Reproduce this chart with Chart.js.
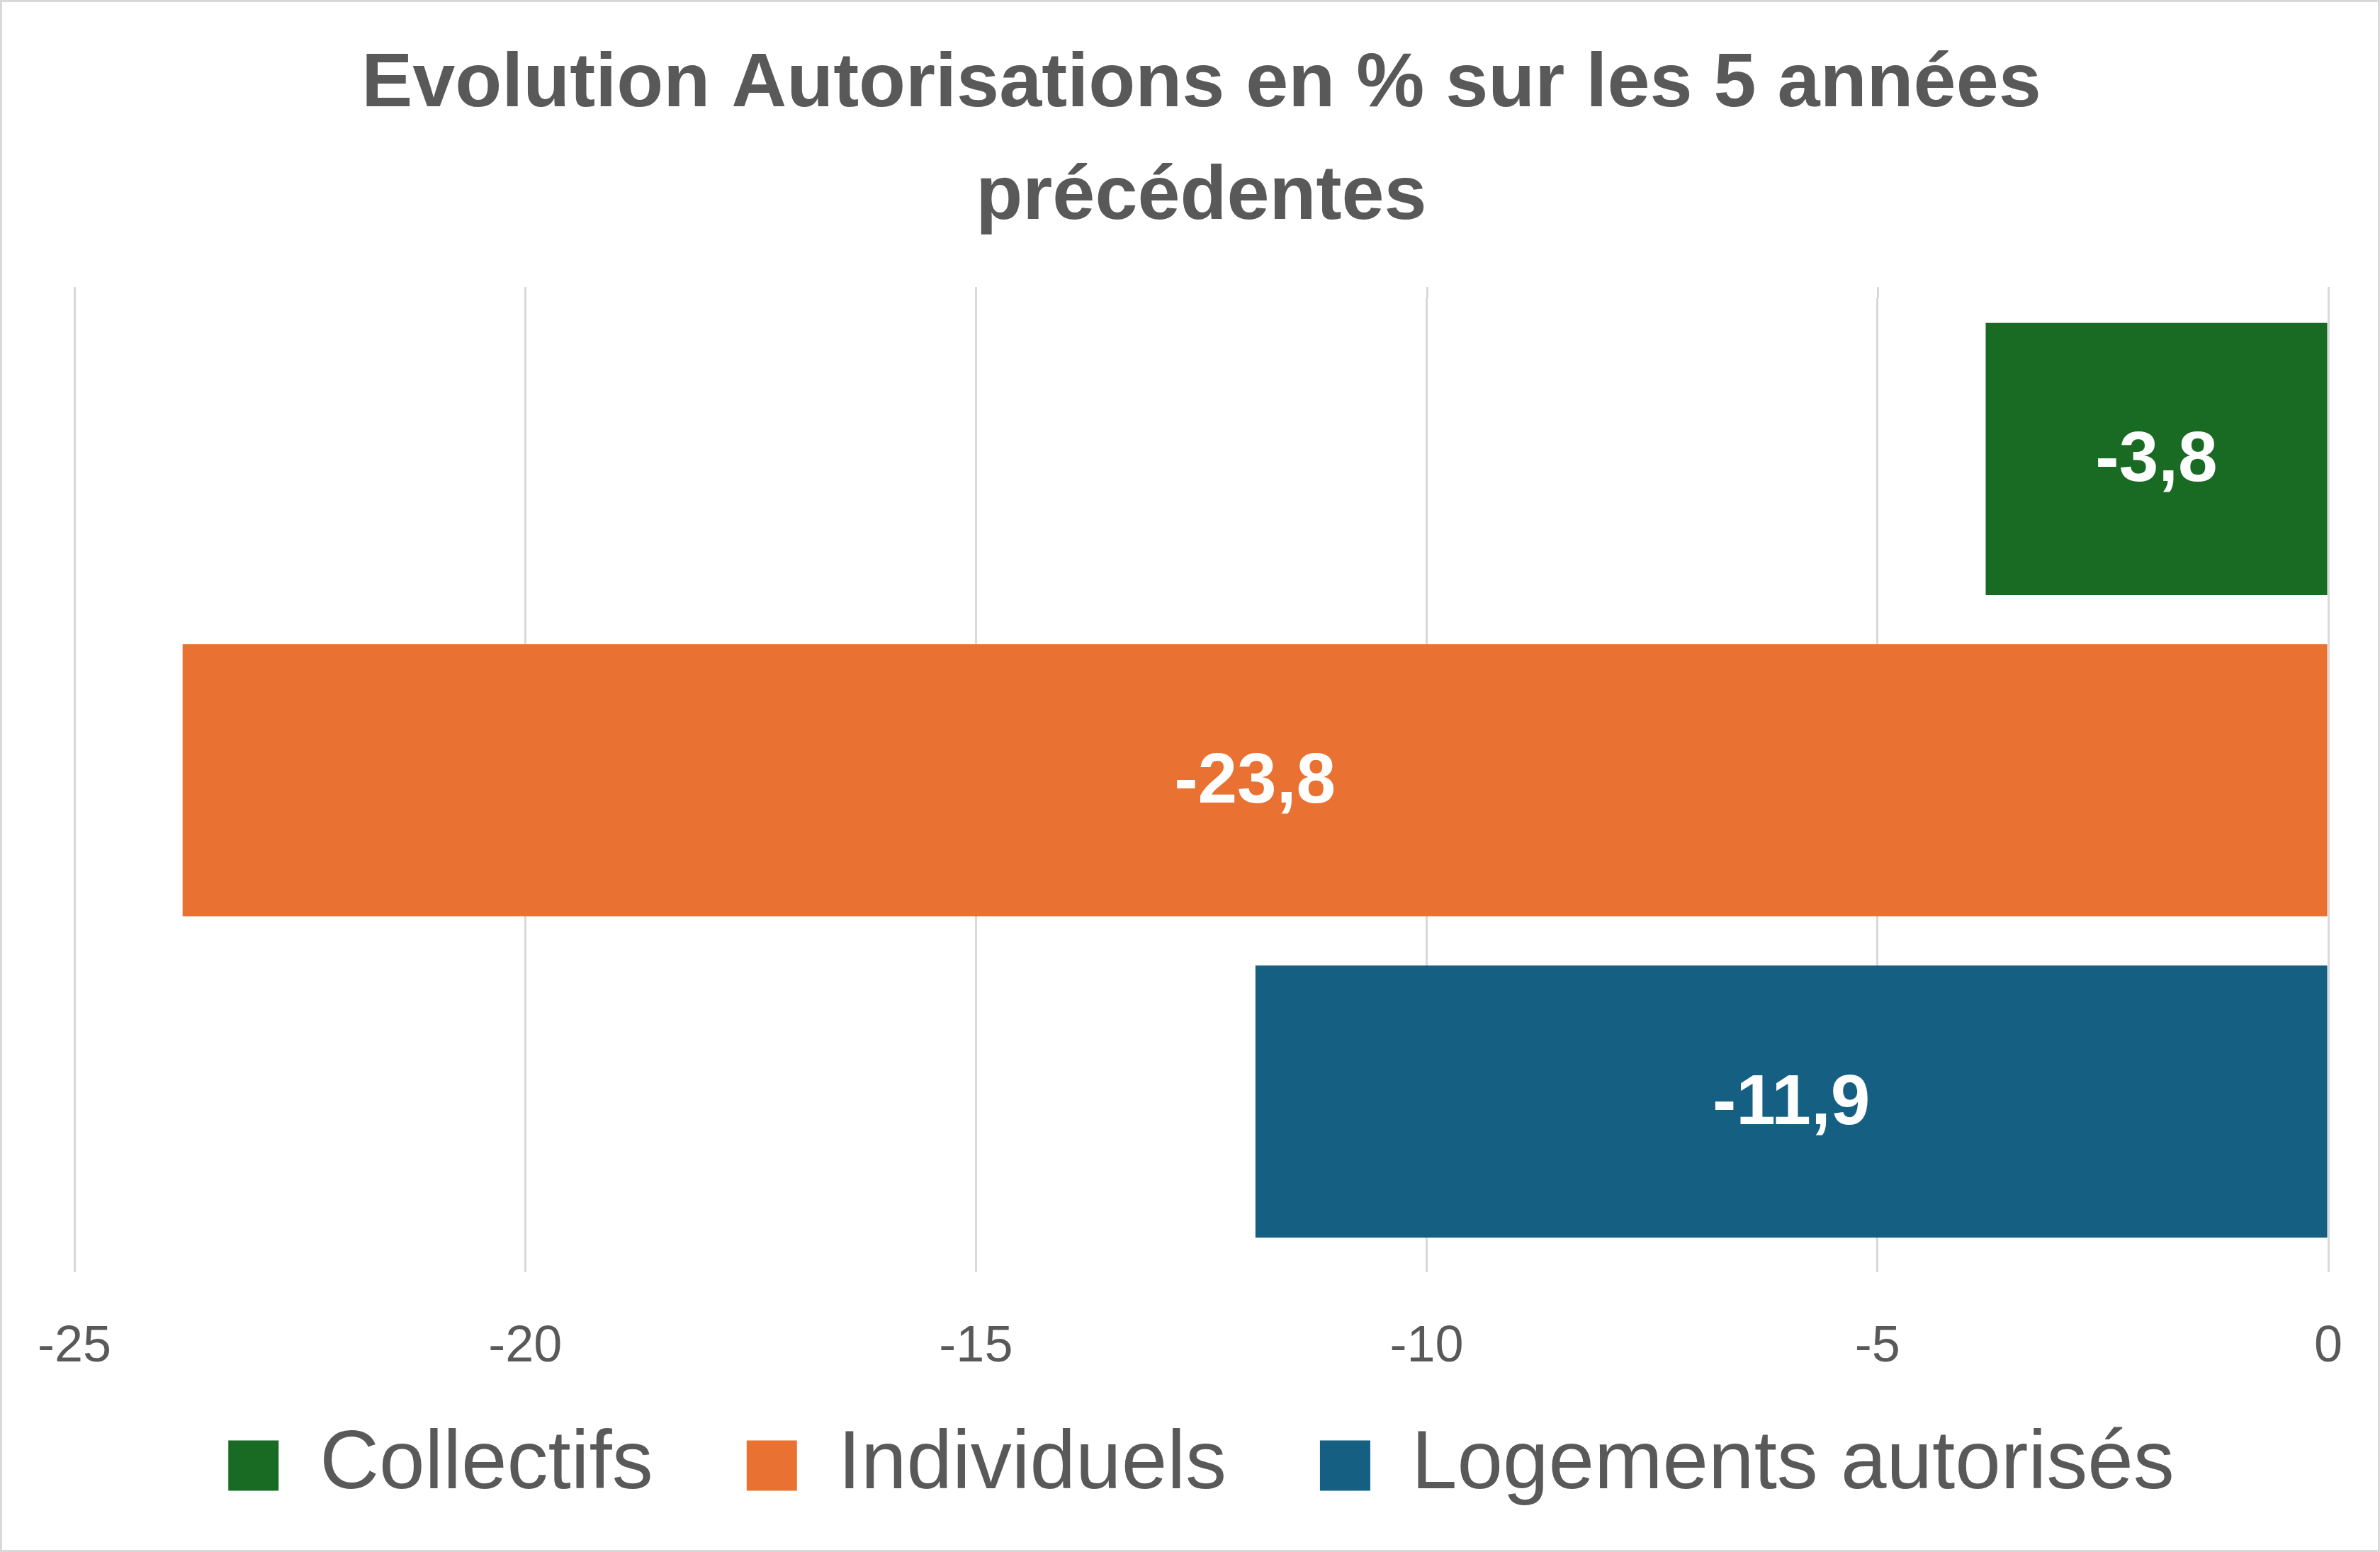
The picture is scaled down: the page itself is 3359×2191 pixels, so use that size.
<!DOCTYPE html>
<html>
<head>
<meta charset="utf-8">
<script src="https://cdn.jsdelivr.net/npm/chart.js@4.4.1/dist/chart.umd.min.js"></script>
<style>
  html, body { margin: 0; padding: 0; background: #ffffff; }
  #wrap { width: 3359px; height: 2191px; }
</style>
</head>
<body>
<div id="wrap"><canvas id="c" width="3359" height="2191"></canvas></div>
<script>
// ---- data ----
const categories = [''];
const seriesNames = ['Collectifs', 'Individuels', 'Logements autorisés'];
const collectifs = [-3.8];
const individuels = [-23.8];
const logementsAutorises = [-11.9];
const seriesColors = ['#196B24', '#E97132', '#156082'];
const titleLines = ['Evolution Autorisations en % sur les 5 années', 'précédentes'];
const xMin = -25, xMax = 0, xStep = 5;

const FONT = "'Liberation Sans', Arial, sans-serif";
const TEXT = '#595959';
const GRID = '#D9D9D9';
const LEGEND_PAD = 132;
const LEGEND_ITEM_Y = 2011;

const fmt = v => String(v).replace('.', ',');

const bgBorder = {
  id: 'bgBorder',
  afterLayout(chart) {
    // move the legend row up into the free space below the tick labels
    const lg = chart.legend;
    if (lg) {
      const h = lg.bottom - lg.top;
      lg.top = LEGEND_ITEM_Y - LEGEND_PAD;
      lg.bottom = lg.top + h;
    }
  },
  beforeDraw(chart) {
    const ctx = chart.ctx;
    ctx.save();
    ctx.fillStyle = '#ffffff';
    ctx.fillRect(0, 0, chart.width, chart.height);
    ctx.restore();
  },
  beforeDatasetsDraw(chart) {
    // extend vertical gridlines slightly above the plot area
    const ctx = chart.ctx, xs = chart.scales.x, area = chart.chartArea;
    ctx.save();
    ctx.strokeStyle = GRID;
    ctx.lineWidth = 3;
    xs.ticks.forEach(t => {
      const px = Math.round(xs.getPixelForValue(t.value)) + 0.5;
      ctx.beginPath();
      ctx.moveTo(px, area.top - 16);
      ctx.lineTo(px, area.top);
      ctx.stroke();
    });
    ctx.restore();
  },
  afterDraw(chart) {
    const ctx = chart.ctx;
    ctx.save();
    ctx.strokeStyle = GRID;
    ctx.lineWidth = 3;
    ctx.strokeRect(1.5, 1.5, chart.width - 3, chart.height - 3);
    ctx.restore();
  }
};

const valueLabels = {
  id: 'valueLabels',
  afterDatasetsDraw(chart) {
    const ctx = chart.ctx;
    ctx.save();
    ctx.fillStyle = '#ffffff';
    ctx.font = 'bold 100px ' + FONT;
    ctx.textAlign = 'center';
    ctx.textBaseline = 'middle';
    chart.data.datasets.forEach((ds, di) => {
      const meta = chart.getDatasetMeta(di);
      meta.data.forEach((bar, i) => {
        const cx = (bar.x + bar.base) / 2;
        ctx.fillText(fmt(ds.data[i]), cx, bar.y + 4);
      });
    });
    ctx.restore();
  }
};

const seriesData = [collectifs, individuels, logementsAutorises];

new Chart(document.getElementById('c'), {
  type: 'bar',
  data: {
    labels: categories,
    datasets: seriesNames.map((name, i) => ({
      label: name,
      data: seriesData[i],
      backgroundColor: seriesColors[i],
      borderWidth: 0,
      categoryPercentage: 1.0,
      barPercentage: 0.847
    }))
  },
  options: {
    indexAxis: 'y',
    responsive: false,
    devicePixelRatio: 1,
    animation: false,
    layout: { padding: { left: 105, right: 73, top: 0, bottom: 0 } },
    scales: {
      x: {
        min: xMin, max: xMax,
        border: { display: false },
        grid: { color: GRID, lineWidth: 3, drawTicks: true, tickLength: 14, tickColor: GRID },
        ticks: {
          stepSize: xStep,
          color: TEXT,
          padding: 63,
          font: { family: FONT, size: 72 },
          maxRotation: 0,
          callback: v => fmt(v)
        },
        afterFit: s => { s.height = 151; s.paddingLeft = 0; s.paddingRight = 0; }
      },
      y: { display: false, grid: { display: false } }
    },
    plugins: {
      title: {
        display: true,
        text: titleLines,
        color: TEXT,
        font: { family: FONT, size: 108, weight: 'bold', lineHeight: 1.472 },
        padding: { top: 41, bottom: 62 }
      },
      legend: {
        display: true,
        position: 'bottom',
        labels: {
          color: TEXT,
          font: { family: FONT, size: 116 },
          boxWidth: 71,
          boxHeight: 71,
          padding: LEGEND_PAD
        }
      },
      tooltip: { enabled: false }
    }
  },
  plugins: [bgBorder, valueLabels]
});
</script>
</body>
</html>
